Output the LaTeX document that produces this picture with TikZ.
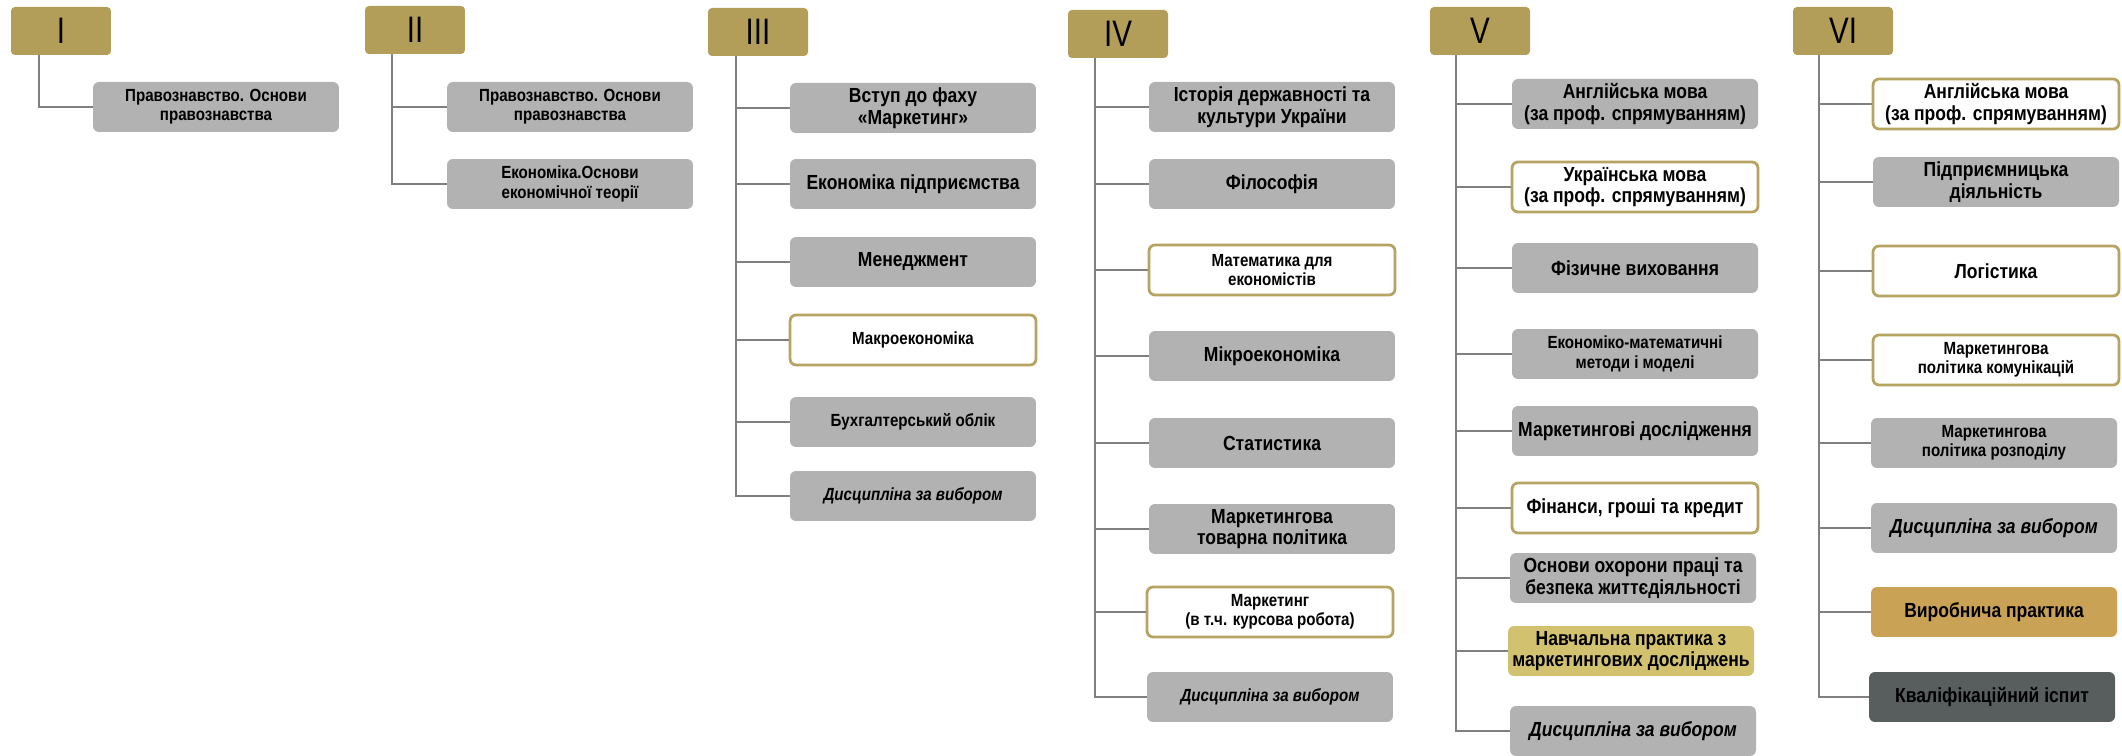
\documentclass[tikz,border=0pt]{standalone}
\usepackage{fontspec}
\setmainfont{Liberation Sans}
\newfontfamily\subjfont{Liberation Sans}[FakeStretch=0.86]
\newfontfamily\semfont{Liberation Sans}[FakeStretch=0.8]
\usepackage{tikz}
\usetikzlibrary{positioning}
\usepackage{xcolor}
\definecolor{hdrgold}{RGB}{178,158,88}
\definecolor{boxgrey}{RGB}{178,178,178}
\definecolor{rimgold}{RGB}{184,164,98}
\definecolor{studygold}{RGB}{210,194,112}
\definecolor{ochre}{RGB}{202,162,86}
\definecolor{slate}{RGB}{88,94,94}
\definecolor{linkgrey}{RGB}{128,128,128}

\begin{document}
\begin{tikzpicture}[x=0.02cm,y=-0.02cm,
	sem/.style={fill=hdrgold,rounded corners=0.08cm,minimum width=2cm,minimum height=0.96cm,inner sep=0pt,font=\semfont\fontsize{21}{21}\selectfont},
	subj/.style={fill=boxgrey,rounded corners=0.12cm,minimum width=4.92cm,minimum height=1cm,inner sep=1pt,align=center,font=\subjfont\bfseries\fontsize{11.6}{12.4}\selectfont},
	subjs/.style={subj,font=\subjfont\bfseries\fontsize{10}{11}\selectfont},
	rim/.style={fill=white,draw=rimgold,line width=1.6pt},
	study/.style={fill=studygold},
	work/.style={fill=ochre},
	exam/.style={fill=slate},
	choice/.style={font=\subjfont\bfseries\itshape\fontsize{11.6}{12.4}\selectfont},
	choices/.style={font=\subjfont\bfseries\itshape\fontsize{10}{11}\selectfont},
	link/.style={draw=linkgrey,line width=1.1pt}]
				\useasboundingbox (0,0) rectangle (2122,756);
				\node[sem] (h1) at (61,31) {I};
				\node[sem] (h2) at (415,30) {II};
				\node[sem] (h3) at (758,32) {III};
				\node[sem] (h4) at (1118,34) {IV};
				\node[sem] (h5) at (1480,31) {V};
				\node[sem] (h6) at (1843,31) {VI};
				\coordinate (t1) at ([xshift=0.56cm]h1.south west);
				\coordinate (t2) at ([xshift=0.54cm]h2.south west);
				\coordinate (t3) at ([xshift=0.56cm]h3.south west);
				\coordinate (t4) at ([xshift=0.54cm]h4.south west);
				\coordinate (t5) at ([xshift=0.52cm]h5.south west);
				\coordinate (t6) at ([xshift=0.52cm]h6.south west);
				\node[subjs] (c1a) at (216,107) {Правознавство. Основи\\правознавства};
				\node[subjs] (c2a) at (570,107) {Правознавство. Основи\\правознавства};
				\node[subjs] (c2b) at (570,184) {Економіка.Основи\\економічної теорії};
				\node[subj] (c3a) at (913,108) {Вступ до фаху\\«Маркетинг»};
				\node[subj] (c3b) at (913,184) {Економіка підприємства};
				\node[subj] (c3c) at (913,262) {Менеджмент};
				\node[subjs,rim] (c3d) at (913,340) {Макроекономіка};
				\node[subjs] (c3e) at (913,422) {Бухгалтерський облік};
				\node[subjs,choices] (c3f) at (913,496) {Дисципліна за вибором};
				\node[subj] (c4a) at (1272,107) {Історія державності та\\культури України};
				\node[subj] (c4b) at (1272,184) {Філософія};
				\node[subjs,rim] (c4c) at (1272,270) {Математика для\\економістів};
				\node[subj] (c4d) at (1272,356) {Мікроекономіка};
				\node[subj] (c4e) at (1272,443) {Статистика};
				\node[subj] (c4f) at (1272,529) {Маркетингова\\товарна політика};
				\node[subjs,rim] (c4g) at (1270,612) {Маркетинг\\(в т.ч. курсова робота)};
				\node[subjs,choices] (c4h) at (1270,697) {Дисципліна за вибором};
				\node[subj] (c5a) at (1635,104) {Англійська мова\\(за проф. спрямуванням)};
				\node[subj,rim] (c5b) at (1635,187) {Українська мова\\(за проф. спрямуванням)};
				\node[subj] (c5c) at (1635,268) {Фізичне виховання};
				\node[subjs] (c5d) at (1635,354) {Економіко-математичні\\методи і моделі};
				\node[subj] (c5e) at (1635,431) {Маркетингові дослідження};
				\node[subj,rim] (c5f) at (1635,508) {Фінанси, гроші та кредит};
				\node[subj] (c5g) at (1633,578) {Основи охорони праці та\\безпека життєдіяльності};
				\node[subj,study] (c5h) at (1631,651) {Навчальна практика з\\маркетингових досліджень};
				\node[subj,choice] (c5i) at (1633,731) {Дисципліна за вибором};
				\node[subj,rim] (c6a) at (1996,104) {Англійська мова\\(за проф. спрямуванням)};
				\node[subj] (c6b) at (1996,182) {Підприємницька\\діяльність};
				\node[subj,rim] (c6c) at (1996,271) {Логістика};
				\node[subjs,rim] (c6d) at (1996,360) {Маркетингова\\політика комунікацій};
				\node[subjs] (c6e) at (1994,443) {Маркетингова\\політика розподілу};
				\node[subj,choice] (c6f) at (1994,528) {Дисципліна за вибором};
				\node[subj,work] (c6g) at (1994,612) {Виробнича практика};
				\node[subj,exam] (c6h) at (1992,697) {Кваліфікаційний іспит};
				\draw[link] (t1) |- (c1a.west);
				\draw[link] (t2) |- (c2a.west);
				\draw[link] (t2) |- (c2b.west);
				\draw[link] (t3) |- (c3a.west);
				\draw[link] (t3) |- (c3b.west);
				\draw[link] (t3) |- (c3c.west);
				\draw[link] (t3) |- (c3d.west);
				\draw[link] (t3) |- (c3e.west);
				\draw[link] (t3) |- (c3f.west);
				\draw[link] (t4) |- (c4a.west);
				\draw[link] (t4) |- (c4b.west);
				\draw[link] (t4) |- (c4c.west);
				\draw[link] (t4) |- (c4d.west);
				\draw[link] (t4) |- (c4e.west);
				\draw[link] (t4) |- (c4f.west);
				\draw[link] (t4) |- (c4g.west);
				\draw[link] (t4) |- (c4h.west);
				\draw[link] (t5) |- (c5a.west);
				\draw[link] (t5) |- (c5b.west);
				\draw[link] (t5) |- (c5c.west);
				\draw[link] (t5) |- (c5d.west);
				\draw[link] (t5) |- (c5e.west);
				\draw[link] (t5) |- (c5f.west);
				\draw[link] (t5) |- (c5g.west);
				\draw[link] (t5) |- (c5h.west);
				\draw[link] (t5) |- (c5i.west);
				\draw[link] (t6) |- (c6a.west);
				\draw[link] (t6) |- (c6b.west);
				\draw[link] (t6) |- (c6c.west);
				\draw[link] (t6) |- (c6d.west);
				\draw[link] (t6) |- (c6e.west);
				\draw[link] (t6) |- (c6f.west);
				\draw[link] (t6) |- (c6g.west);
				\draw[link] (t6) |- (c6h.west);
			\end{tikzpicture}
\end{document}
